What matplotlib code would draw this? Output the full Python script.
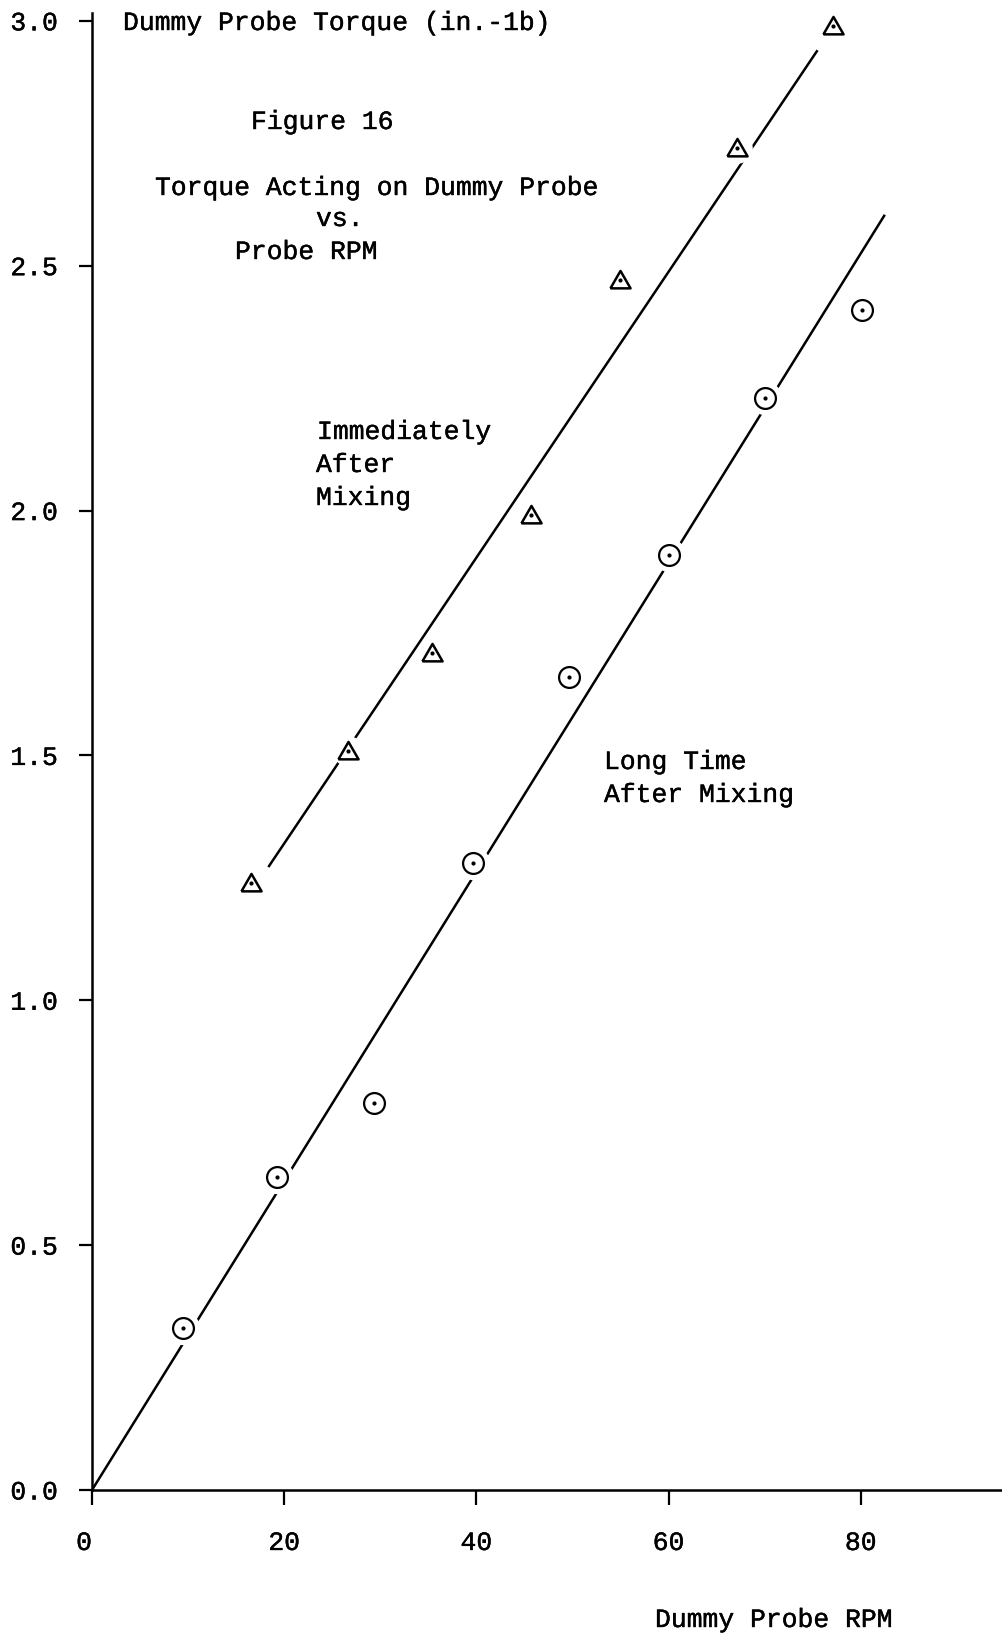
import matplotlib
matplotlib.use("Agg")
import matplotlib.pyplot as plt
import matplotlib.patheffects as pe
import numpy as np

# ---- data ----
rpm_immediate = [16.5, 26.6, 35.4, 45.7, 54.9, 67.1, 77.1]
torque_immediate = [1.24, 1.51, 1.71, 1.99, 2.47, 2.74, 2.99]

rpm_longtime = [9.5, 19.2, 29.3, 39.6, 49.6, 60.0, 70.0, 80.1]
torque_longtime = [0.33, 0.64, 0.79, 1.28, 1.66, 1.91, 2.23, 2.41]

# hand-drawn fit lines (end points)
fit_immediate_x = [18.35, 75.5]
fit_immediate_y = [1.272, 2.94]
fit_longtime_x = [0.0, 82.5]
fit_longtime_y = [0.0, 2.604]

x_ticks = [0, 20, 40, 60, 80]
x_tick_labels = ["0", "20", "40", "60", "80"]
y_ticks = [0.0, 0.5, 1.0, 1.5, 2.0, 2.5, 3.0]
y_tick_labels = ["0.0", "0.5", "1.0", "1.5", "2.0", "2.5", "3.0"]

FONT = "Liberation Mono"
FS = 19
THICK = [pe.withStroke(linewidth=0.3, foreground="black")]

W, H = 1003, 1638
fig = plt.figure(figsize=(W / 100, H / 100), dpi=100)
fig.patch.set_facecolor("white")

ax_left = 92 / W
ax_bottom = (H - 1490) / H
ax_top = (H - 12.5) / H
ax = fig.add_axes([ax_left, ax_bottom, 1 - ax_left, ax_top - ax_bottom])
ax.set_xlim(0, 94.8)
ax.set_ylim(0, 3.017)

for s in ["top", "right"]:
    ax.spines[s].set_visible(False)
for s in ["left", "bottom"]:
    ax.spines[s].set_linewidth(1.8)
    ax.spines[s].set_color("black")

ax.set_xticks(x_ticks)
ax.set_xticklabels(x_tick_labels, fontfamily=FONT, fontsize=FS)
ax.set_yticks(y_ticks)
ax.set_yticklabels(y_tick_labels, fontfamily=FONT, fontsize=FS)
ax.tick_params(axis="x", direction="out", length=10.5, width=1.6, pad=19)
ax.tick_params(axis="y", direction="out", length=9.5, width=1.6, pad=15)
for lab in ax.get_xticklabels() + ax.get_yticklabels():
    lab.set_path_effects(THICK)
ax.get_xticklabels()[0].set_horizontalalignment("right")

# fit lines
ax.plot(fit_immediate_x, fit_immediate_y, color="black", lw=1.8, zorder=2,
        solid_capstyle="butt")
ax.plot(fit_longtime_x, fit_longtime_y, color="black", lw=1.8, zorder=2,
        solid_capstyle="butt")

# white halos break the lines around the symbols
ax.plot(rpm_immediate, torque_immediate, ls="none", marker="o", ms=22,
        mfc="white", mec="none", zorder=3)
ax.plot(rpm_longtime, torque_longtime, ls="none", marker="o", ms=24,
        mfc="white", mec="none", zorder=3)

tri = [(-1, -0.78), (1, -0.78), (0, 0.95), (-1, -0.78)]
ax.plot(rpm_immediate, torque_immediate, ls="none", marker=tri, ms=14.5,
        mfc="white", mec="black", mew=1.8, zorder=4)
ax.plot(rpm_immediate, torque_immediate, ls="none", marker="o", ms=3.0,
        mfc="black", mec="black", mew=0, zorder=5)

ax.plot(rpm_longtime, torque_longtime, ls="none", marker="o", ms=15,
        mfc="white", mec="black", mew=1.6, zorder=4)
ax.plot(rpm_longtime, torque_longtime, ls="none", marker="o", ms=3.0,
        mfc="black", mec="black", mew=0, zorder=5)

# texts (pixel positions: left edge, vertical centre)
texts = [
    ("Dummy Probe Torque (in.-1b)", 123, 23),
    ("Figure 16", 251, 122),
    ("Torque Acting on Dummy Probe", 155, 188),
    ("vs.", 316, 219),
    ("Probe RPM", 235, 252),
    ("Immediately", 317, 432),
    ("After", 316, 465),
    ("Mixing", 316, 498),
    ("Long Time", 604, 762),
    ("After Mixing", 604, 795),
    ("Dummy Probe RPM", 655, 1620),
]
for t, px, py in texts:
    fig.text(px / W, 1 - py / H, t, fontfamily=FONT, fontsize=FS,
             ha="left", va="center", color="black", path_effects=THICK)

fig.savefig("out.png", dpi=100, facecolor="white")
